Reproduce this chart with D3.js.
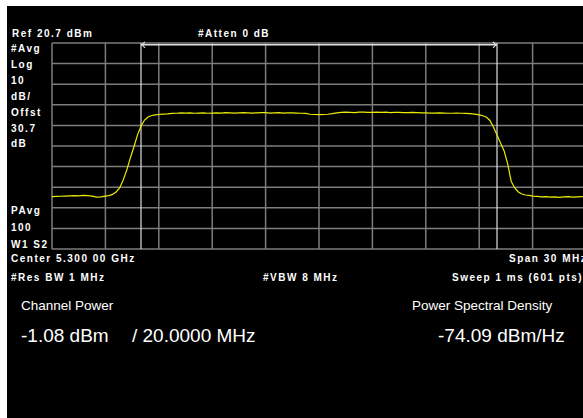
<!DOCTYPE html>
<html><head><meta charset="utf-8">
<script src="https://cdn.jsdelivr.net/npm/d3@7"></script>
<style>
html,body{margin:0;padding:0;background:#fff;}
svg{display:block;}
text{font-family:"Liberation Sans",Arial,sans-serif;fill:#fff;}
.s{font-size:10px;font-weight:bold;letter-spacing:1.5px;}
</style></head>
<body>
<script>
// ---- data ----
const refLevel = 20.7, dbPerDiv = 10, centerGHz = 5.3, spanMHz = 30, chanBW = 20;
const xGridMHz = [-15,-12,-9,-6,-3,0,3,6,9,12,15];
const yGridDbm = [20.7,10.7,0.7,-9.3,-19.3,-29.3,-39.3,-49.3,-59.3,-69.3,-79.3];
const freqMHz = [
 -15,-14.75,-14.5,-14.25,-14,-13.75,-13.5,-13.25,-13,-12.75,-12.5,-12.25,-12,-11.8,
 -11.6,-11.4,-11.2,-11.0,-10.8,-10.6,-10.4,-10.2,-10.0,-9.8,-9.6,-9.4,-9.2,
 -9.0,-8.75,-8.5,-8.25,-8.0,-7.75,-7.5,-7.25,-7.0,-6.75,-6.5,-6.25,-6.0,-5.75,-5.5,-5.25,
 -5.0,-4.75,-4.5,-4.25,-4.0,-3.75,-3.5,-3.25,-3.0,-2.75,-2.5,-2.25,-2.0,-1.75,-1.5,-1.25,
 -1.0,-0.75,-0.5,-0.25,0,0.25,0.5,0.75,1.0,1.25,1.5,1.75,2.0,2.25,2.5,2.75,
 3.0,3.25,3.5,3.75,4.0,4.25,4.5,4.75,5.0,5.25,5.5,5.75,6.0,6.25,6.5,6.75,
 7.0,7.25,7.5,7.75,8.0,8.25,8.5,8.75,9.0,
 9.2,9.4,9.6,9.8,10.0,10.2,10.4,10.6,10.8,11.0,11.2,11.4,11.6,11.8,
 12.0,12.25,12.5,12.75,13.0,13.25,13.5,13.75,14.0,14.25,14.5,14.75,15.0];
const powerDbm = [
 -53.9,-53.8,-53.7,-53.6,-53.5,-53.4,-53.5,-53.3,-53.4,-53.6,-54.1,-54.0,-53.6,-53.4,
 -52.8,-51.6,-49.7,-45.8,-41.0,-35.1,-29.8,-24.0,-19.6,-16.7,-15.2,-14.5,-14.2,
 -14.0,-13.8,-13.7,-13.5,-13.4,-13.2,-13.3,-13.2,-13.4,-13.3,-13.2,-13.4,-13.3,-13.2,-13.3,-13.1,
 -13.2,-13.3,-13.2,-13.1,-13.2,-13.3,-13.2,-13.1,-13.1,-13.3,-13.2,-13.1,-13.3,-13.2,-13.2,-13.3,
 -13.4,-13.5,-13.9,-14.0,-14.1,-14.0,-13.9,-13.6,-13.2,-13.0,-12.9,-13.0,-13.1,-12.9,-12.9,-13.0,
 -13.0,-12.9,-13.0,-12.9,-13.1,-13.0,-13.0,-13.1,-13.1,-13.0,-13.1,-13.2,-13.2,-13.3,-13.3,-13.2,
 -13.3,-13.4,-13.4,-13.3,-13.4,-13.5,-13.6,-13.8,-14.2,
 -14.6,-15.2,-16.9,-20.1,-24.0,-27.8,-31.7,-38.0,-46.5,-49.7,-51.6,-52.6,-53.1,-53.3,
 -53.6,-53.8,-54.0,-53.9,-54.1,-54.0,-54.2,-54.0,-53.9,-54.1,-54.0,-53.9,-54.0];
const topLabels = [["Ref 20.7 dBm",12,37],["#Atten 0 dB",198,37]];
const leftLabels = [["#Avg",52],["Log",68],["10",84],["dB/",100],["Offst",116],["30.7",132],["dB",147],
                    ["PAvg",214],["100",231],["W1 S2",248]];
const bottomLabels = [["Center 5.300 00 GHz",11,262],["Span 30 MHz",509,262],
                      ["#Res BW 1 MHz",11,281],["#VBW 8 MHz",263,281],["Sweep 1 ms (601 pts)",452,281]];
const results = [
  {label:"Channel Power", x:21, value:"-1.08 dBm", vx:21},
  {label:"Power Spectral Density", x:412, value:"-74.09 dBm/Hz", vx:438}
];
const bwText = "/ 20.0000 MHz";

// ---- drawing ----
const W = 583, H = 418;
const svg = d3.select("body").append("svg").attr("width", W).attr("height", H);
svg.append("rect").attr("x",7).attr("y",6).attr("width",W-7).attr("height",H-6).attr("fill","#000");

const x = d3.scaleLinear().domain([-spanMHz/2, spanMHz/2]).range([52, 586]);
const y = d3.scaleLinear().domain([refLevel, refLevel - 10*dbPerDiv]).range([43, 249]);

const grid = svg.append("g").attr("stroke","#7c7c7c").attr("stroke-width",1.5);
grid.selectAll("line.v").data(xGridMHz).enter().append("line")
  .attr("x1",d=>x(d)).attr("x2",d=>x(d)).attr("y1",y.range()[0]).attr("y2",y.range()[1]);
grid.selectAll("line.h").data(yGridDbm).enter().append("line")
  .attr("y1",d=>y(d)).attr("y2",d=>y(d)).attr("x1",x.range()[0]).attr("x2",x.range()[1]);

// channel bandwidth markers
const cL = x(-chanBW/2), cR = x(chanBW/2);
const mk = svg.append("g").attr("stroke","#e0e0e0").attr("stroke-width",1.2).attr("fill","none");
[cL,cR].forEach(cx=>mk.append("line").attr("x1",cx).attr("x2",cx).attr("y1",y.range()[0]).attr("y2",y.range()[1]));
const yb = y.range()[0] + 1.8;
mk.append("line").attr("x1",cL).attr("x2",cR).attr("y1",yb).attr("y2",yb).attr("stroke-width",1.5);
mk.append("path").attr("d",`M${cL+4},${yb-3}L${cL+1},${yb}L${cL+4},${yb+3}`);
mk.append("path").attr("d",`M${cR-4},${yb-3}L${cR-1},${yb}L${cR-4},${yb+3}`);

// trace
const pts = freqMHz.map((f,i)=>[f,powerDbm[i]]);
svg.append("path").datum(pts)
  .attr("fill","none").attr("stroke","#ecec00").attr("stroke-width",1.2)
  .attr("d", d3.line().x(d=>x(d[0])).y(d=>y(d[1])));

// labels
topLabels.forEach(([t,tx,ty])=>svg.append("text").attr("class","s").attr("x",tx).attr("y",ty).text(t));
leftLabels.forEach(([t,ty])=>svg.append("text").attr("class","s").attr("x",11).attr("y",ty).attr("xml:space","preserve").text(t));
bottomLabels.forEach(([t,tx,ty])=>svg.append("text").attr("class","s").attr("x",tx).attr("y",ty).text(t));

results.forEach(r=>{
  svg.append("text").attr("x",r.x).attr("y",310).attr("font-size",13.5).attr("fill","#e8e8e8").text(r.label);
  svg.append("text").attr("x",r.vx).attr("y",342).attr("font-size",19).attr("fill","#e8e8e8").text(r.value);
});
svg.append("text").attr("x",132).attr("y",342).attr("font-size",19).attr("fill","#e8e8e8")
  .attr("xml:space","preserve").text(bwText);
</script>
</body></html>
